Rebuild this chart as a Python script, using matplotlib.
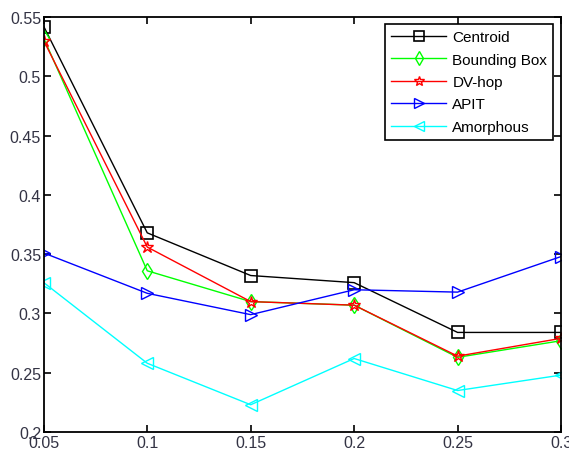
import matplotlib
matplotlib.use("Agg")
import matplotlib.pyplot as plt

x = [0.05, 0.1, 0.15, 0.2, 0.25, 0.3]
centroid = [0.542, 0.368, 0.332, 0.326, 0.284, 0.284]
bounding_box = [0.532, 0.336, 0.310, 0.307, 0.263, 0.277]
dv_hop = [0.530, 0.356, 0.310, 0.307, 0.264, 0.279]
apit = [0.351, 0.317, 0.299, 0.320, 0.318, 0.348]
amorphous = [0.326, 0.258, 0.223, 0.262, 0.235, 0.248]

xticks = [0.05, 0.1, 0.15, 0.2, 0.25, 0.3]
xticklabels = ["0.05", "0.1", "0.15", "0.2", "0.25", "0.3"]
yticks = [0.2, 0.25, 0.3, 0.35, 0.4, 0.45, 0.5, 0.55]
yticklabels = ["0.2", "0.25", "0.3", "0.35", "0.4", "0.45", "0.5", "0.55"]

plt.rcParams['font.family'] = ['Liberation Sans', 'DejaVu Sans']

fig = plt.figure(figsize=(5.69, 4.52), dpi=100)
ax = fig.add_axes([0.077, 0.042, 0.909, 0.918])

ms = 8
ax.plot(x, centroid, color='black', marker='s', ms=ms, mfc='none', mew=1.2, lw=1, label='Centroid')
ax.plot(x, bounding_box, color='#00ff00', marker='d', ms=ms, mfc='none', mew=1, lw=1, label='Bounding Box')
ax.plot(x, dv_hop, color='red', marker='*', ms=ms + 1, mfc='none', mew=1, lw=1, label='DV-hop')
ax.plot(x, apit, color='blue', marker='>', ms=ms + 1, mfc='none', mew=1, lw=1, label='APIT')
ax.plot(x, amorphous, color='cyan', marker='<', ms=ms + 1, mfc='none', mew=1, lw=1, label='Amorphous')

ax.set_xlim(0.05, 0.3)
ax.set_ylim(0.2, 0.55)
ax.set_xticks(xticks)
ax.set_xticklabels(xticklabels)
ax.set_yticks(yticks)
ax.set_yticklabels(yticklabels)
ax.tick_params(direction='in', top=True, right=True, length=5, width=1.2,
               labelsize=11.5, labelcolor='#333344', pad=2)
for s in ax.spines.values():
    s.set_linewidth(1.3)

leg = ax.legend(loc='upper right', bbox_to_anchor=(0.985, 0.983), fancybox=False,
                edgecolor='black', framealpha=1, fontsize=11, handlelength=3.6,
                borderpad=0.4, labelspacing=0.55, handletextpad=0.4, borderaxespad=0,
                markerscale=0.85)
leg.get_frame().set_linewidth(1.2)

fig.savefig('out.png', dpi=100)
